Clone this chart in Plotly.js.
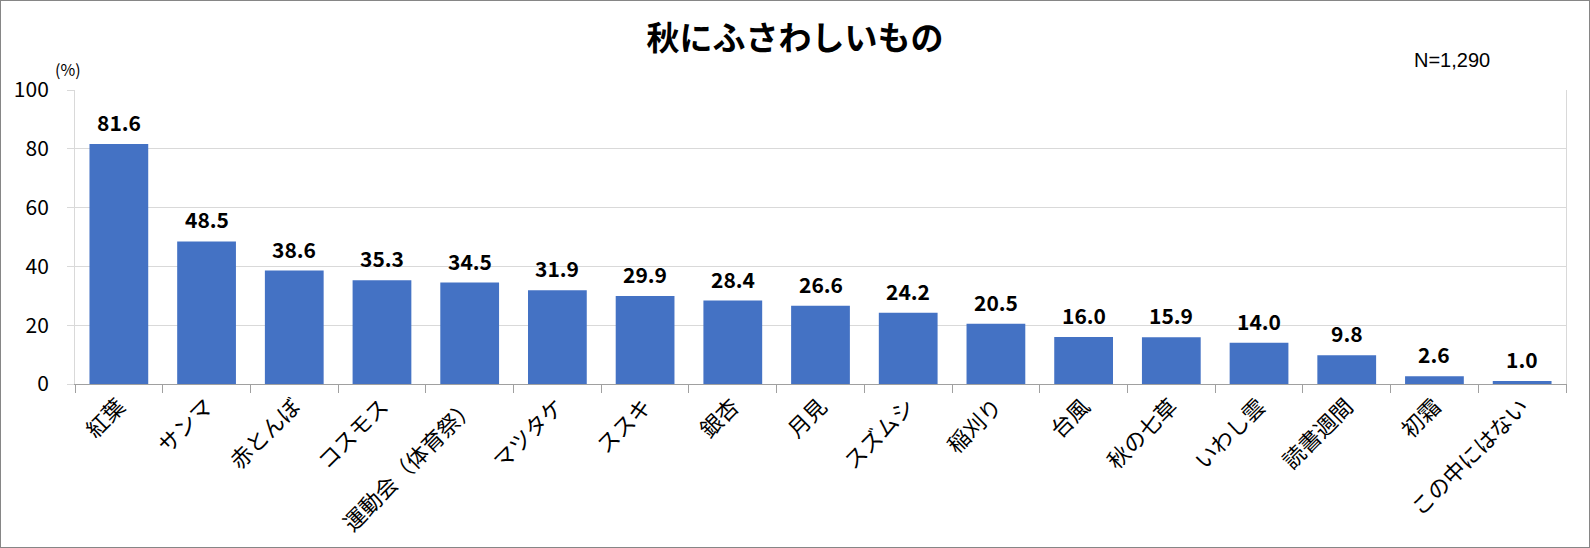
<!DOCTYPE html>
<html>
<head>
<meta charset="utf-8">
<script src="https://cdn.plot.ly/plotly-3.0.1.min.js"></script>
<style>
html, body { margin: 0; padding: 0; background: #fff; }
#chart { width: 1588px; height: 546px; border: 1px solid #868686; }
</style>
</head>
<body>
<div id="chart"></div>
<script>
const categories = ["紅葉", "サンマ", "赤とんぼ", "コスモス", "運動会（体育祭）", "マツタケ", "ススキ", "銀杏", "月見", "スズムシ", "稲刈り", "台風", "秋の七草", "いわし雲", "読書週間", "初霜", "この中にはない"];
const values = [81.6, 48.5, 38.6, 35.3, 34.5, 31.9, 29.9, 28.4, 26.6, 24.2, 20.5, 16.0, 15.9, 14.0, 9.8, 2.6, 1.0];
const yTicks = [0, 20, 40, 60, 80, 100];
const titleText = "秋にふさわしいもの";
const sampleNote = "N=1,290";
const unitNote = "(%)";

const FONT = "'Noto Sans CJK JP', 'Noto Sans', sans-serif";

const labelAnnotations = categories.map((c, i) => ({
  x: c, y: values[i], xref: 'x', yref: 'y',
  text: values[i].toFixed(1),
  showarrow: false, yanchor: 'middle', yshift: 22,
  font: {family: FONT, size: 21, color: '#000', weight: 'bold'}
}));

const data = [{
  type: 'bar',
  x: categories,
  y: values,
  marker: {color: '#4472C4'},
  hoverinfo: 'x+y'
}];

const layout = {
  width: 1588, height: 546,
  margin: {l: 74, r: 23, t: 89, b: 163, pad: 0},
  paper_bgcolor: '#fff', plot_bgcolor: '#fff',
  bargap: 0.33,
  showlegend: false,
  font: {family: FONT, color: '#000'},
  title: {
    text: titleText,
    xref: 'container', x: 0.5, xanchor: 'center',
    yref: 'container', y: 1 - 37/546, yanchor: 'middle',
    font: {family: FONT, size: 33, color: '#000', weight: 'bold'}
  },
  xaxis: {
    type: 'category',
    tickangle: -45,
    tickfont: {family: FONT, size: 22, color: '#000'},
    showline: true, linecolor: '#a0a0a0', linewidth: 1,
    ticks: 'outside', tickson: 'boundaries', ticklen: 8, tickcolor: '#a0a0a0',
    showgrid: false, automargin: false, fixedrange: true
  },
  yaxis: {
    range: [0, 100],
    tickvals: yTicks,
    ticktext: yTicks.map(String),
    tickfont: {family: FONT, size: 21, color: '#000'},
    showline: true, mirror: true, linecolor: '#d9d9d9', linewidth: 1,
    ticks: 'outside', ticklen: 7, tickcolor: '#d9d9d9',
    ticklabelstandoff: 14,
    showgrid: true, gridcolor: '#d9d9d9', gridwidth: 1,
    zeroline: false, automargin: false, fixedrange: true
  },
  annotations: labelAnnotations.concat([
    {
      xref: 'paper', yref: 'paper', x: (67 - 74)/1491, y: 1 + (89 - 68)/294,
      xanchor: 'center', yanchor: 'middle', showarrow: false,
      text: unitNote, font: {family: FONT, size: 16, color: '#000'}
    },
    {
      xref: 'paper', yref: 'paper', x: (1452 - 75)/1491, y: 1 + (90 - 60)/294,
      xanchor: 'center', yanchor: 'middle', showarrow: false,
      text: sampleNote, font: {family: "'Liberation Sans', Arial, sans-serif", size: 20, color: '#000'}
    }
  ])
};

Plotly.newPlot('chart', data, layout, {displayModeBar: false, staticPlot: true});
</script>
</body>
</html>
